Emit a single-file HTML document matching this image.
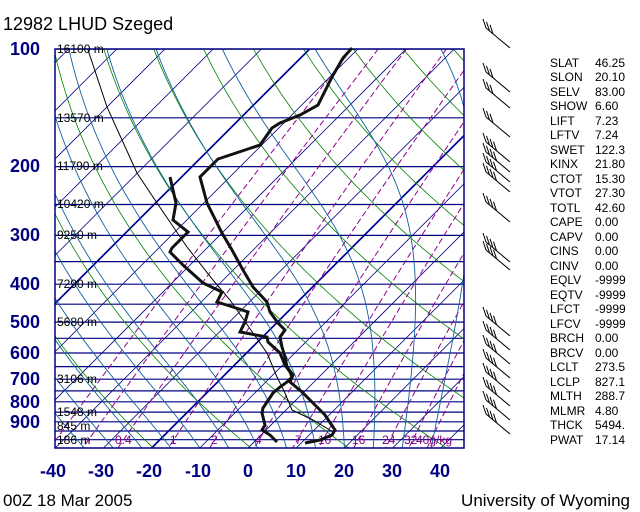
<!DOCTYPE html>
<html><head><meta charset="utf-8"><style>
html,body{margin:0;padding:0;background:#fff;width:640px;height:512px;overflow:hidden}
svg{display:block}
.ax{font:bold 18px "Liberation Sans",sans-serif;fill:#000080}
.hl{font:12px "Liberation Sans",sans-serif;fill:#000}
.st{font:12px "Liberation Sans",sans-serif;fill:#000}
.mr{font:12px "Liberation Sans",sans-serif;fill:#800080}
</style></head><body>
<svg id="s" width="640" height="512" xmlns="http://www.w3.org/2000/svg">
<defs><clipPath id="c"><rect x="55" y="49" width="409" height="399"/></clipPath></defs>
<g id="bg" clip-path="url(#c)"></g>
<rect x="55" y="49" width="409" height="399" fill="none" stroke="#000080" stroke-width="1.5"/>
<text x="3" y="30" style="font:18px 'Liberation Sans',sans-serif">12982 LHUD Szeged</text>
<text x="3" y="506" style="font:17px 'Liberation Sans',sans-serif">00Z 18 Mar 2005</text>
<text x="630" y="506" text-anchor="end" style="font:17px 'Liberation Sans',sans-serif">University of Wyoming</text>
<g class="ax" text-anchor="end">
<text x="40" y="55">100</text><text x="40" y="172">200</text><text x="40" y="241">300</text>
<text x="40" y="290">400</text><text x="40" y="328">500</text><text x="40" y="359">600</text>
<text x="40" y="385">700</text><text x="40" y="408">800</text><text x="40" y="428">900</text>
</g>
<g class="ax" text-anchor="middle">
<text x="53" y="477">-40</text><text x="101" y="477">-30</text><text x="149" y="477">-20</text>
<text x="198" y="477">-10</text><text x="248" y="477">0</text><text x="296" y="477">10</text>
<text x="344" y="477">20</text><text x="392" y="477">30</text><text x="440" y="477">40</text>
</g>
<g class="hl">
<text x="57" y="53">16100 m</text><text x="57" y="122">13570 m</text><text x="57" y="170">11790 m</text>
<text x="57" y="208">10420 m</text><text x="57" y="239">9250 m</text><text x="57" y="288">7290 m</text>
<text x="57" y="326">5680 m</text><text x="57" y="383">3106 m</text><text x="57" y="416">1548 m</text>
<text x="57" y="430">845 m</text><text x="57" y="444">186 m</text>
</g>
<g class="mr">
<text x="115" y="444">0.4</text><text x="170" y="444">1</text><text x="211" y="444">2</text>
<text x="255" y="444">4</text><text x="295" y="444">7</text><text x="318" y="444">10</text>
<text x="352" y="444">16</text><text x="382" y="444">24</text><text x="404" y="444">32</text><text x="416" y="444">40g/kg</text>
</g>
<g class="st">
<text x="550" y="67">SLAT</text><text x="595" y="67">46.25</text>
<text x="550" y="81">SLON</text><text x="595" y="81">20.10</text>
<text x="550" y="96">SELV</text><text x="595" y="96">83.00</text>
<text x="550" y="110">SHOW</text><text x="595" y="110">6.60</text>
<text x="550" y="125">LIFT</text><text x="595" y="125">7.23</text>
<text x="550" y="139">LFTV</text><text x="595" y="139">7.24</text>
<text x="550" y="154">SWET</text><text x="595" y="154">122.3</text>
<text x="550" y="168">KINX</text><text x="595" y="168">21.80</text>
<text x="550" y="183">CTOT</text><text x="595" y="183">15.30</text>
<text x="550" y="197">VTOT</text><text x="595" y="197">27.30</text>
<text x="550" y="212">TOTL</text><text x="595" y="212">42.60</text>
<text x="550" y="226">CAPE</text><text x="595" y="226">0.00</text>
<text x="550" y="241">CAPV</text><text x="595" y="241">0.00</text>
<text x="550" y="255">CINS</text><text x="595" y="255">0.00</text>
<text x="550" y="270">CINV</text><text x="595" y="270">0.00</text>
<text x="550" y="284">EQLV</text><text x="595" y="284">-9999</text>
<text x="550" y="299">EQTV</text><text x="595" y="299">-9999</text>
<text x="550" y="313">LFCT</text><text x="595" y="313">-9999</text>
<text x="550" y="328">LFCV</text><text x="595" y="328">-9999</text>
<text x="550" y="342">BRCH</text><text x="595" y="342">0.00</text>
<text x="550" y="357">BRCV</text><text x="595" y="357">0.00</text>
<text x="550" y="371">LCLT</text><text x="595" y="371">273.5</text>
<text x="550" y="386">LCLP</text><text x="595" y="386">827.1</text>
<text x="550" y="400">MLTH</text><text x="595" y="400">288.7</text>
<text x="550" y="415">MLMR</text><text x="595" y="415">4.80</text>
<text x="550" y="429">THCK</text><text x="595" y="429">5494.</text>
<text x="550" y="444">PWAT</text><text x="595" y="444">17.14</text>
</g>
<g id="fg"></g>
</svg>
<script>
var NS="http://www.w3.org/2000/svg";
function Y(p){return 49+390.7*Math.log10(p/100);}
function X(T,p){return 248+4.82*T+(448-Y(p));}
function pl(g,pts,st,w,dash){var e=document.createElementNS(NS,"polyline");
e.setAttribute("points",pts.map(function(q){return q[0].toFixed(1)+","+q[1].toFixed(1)}).join(" "));
e.setAttribute("fill","none");e.setAttribute("stroke",st);e.setAttribute("stroke-width",w);
if(dash)e.setAttribute("stroke-dasharray",dash);document.getElementById(g).appendChild(e);}
var P=[];for(var p=100;p<=1050;p+=10)P.push(p);
for(var p=100;p<=1000;p+=50)pl("bg",[[55,Y(p)],[464,Y(p)]],"#000080",1.2);
for(var T=-160;T<=50;T+=10){pl("bg",[[X(T,1050),448],[X(T,100),49]],"#000080",0.8);}
[-70,-20].forEach(function(T){pl("bg",[[X(T,1050),448],[X(T,100),49]],"#000090",1.7);});
for(var th=230;th<=500;th+=20){pl("bg",P.map(function(p){return [X(th*Math.pow(p/1000,0.286)-273.15,p),Y(p)]}),"#008000",0.8);}
[0.1,0.2,0.4,1,2,4,7,10,16,24,32,40].forEach(function(w){pl("bg",P.map(function(p){var e=w*p/(622+w),l=Math.log(e/6.112);return [X(243.5*l/(17.67-l),p),Y(p)]}),"#900090",1,"6,3");});
function es(T){return 6.112*Math.exp(17.67*T/(T+243.5));}
function gam(T,p){var Tk=T+273.15,e=es(T),r=0.622*e/(p-e),L=2.5e6,Rd=287,cp=1004;
return (Rd*Tk+L*r)/(cp+L*L*r*0.622/(Rd*Tk*Tk))/p;}
for(var T0=-40;T0<=40;T0+=6){var T=T0,pts=[];for(var p=1050;p>=100;p-=5){pts.push([X(T,p),Y(p)]);T-=gam(T,p)*5;}pl("bg",pts,"#1060a0",0.9);}
var tmp=[[352,48],[343,58],[332,77],[318,105],[300,115],[280,123],[272,128],[260,145],[245,150],[218,159],[200,177],[207,203],[222,233],[232,250],[243,270],[253,287],[267,302],[270,312],[278,323],[285,330],[280,337],[282,347],[285,357],[287,367],[293,375],[290,382],[302,392],[313,403],[325,415],[335,430],[332,435],[320,440],[305,443]];
var dew=[[170,177],[173,190],[176,203],[173,220],[188,232],[172,248],[170,252],[183,265],[203,283],[222,292],[217,302],[233,307],[248,312],[245,322],[240,332],[267,337],[268,342],[280,353],[285,365],[290,372],[292,377],[287,382],[280,387],[273,393],[263,408],[262,413],[265,425],[262,430],[270,435],[277,442]];
var par=[[88,50],[107,107],[137,173],[157,203],[187,247],[213,280],[230,300],[253,333],[267,353],[277,377],[285,393],[292,410],[313,420],[333,432]];
pl("fg",par,"#000",1);pl("fg",tmp,"#111",3);pl("fg",dew,"#111",3);
[48,92,108,137,162,172,182,192,222,262,270,336,350,364,378,392,406,420,434].forEach(function(y,i){
var x0=510,y0=y,x1=x0-24,y1=y0-20;pl("fg",[[x0,y0],[x1,y1]],"#000",1);
var n=(i<4)?3:4;for(var k=0;k<n;k++){var bx=x1+k*3.5,by=y1+k*2.9;pl("fg",[[bx,by],[bx-3,by-9]],"#000",1);}
});
</script>
</body></html>
